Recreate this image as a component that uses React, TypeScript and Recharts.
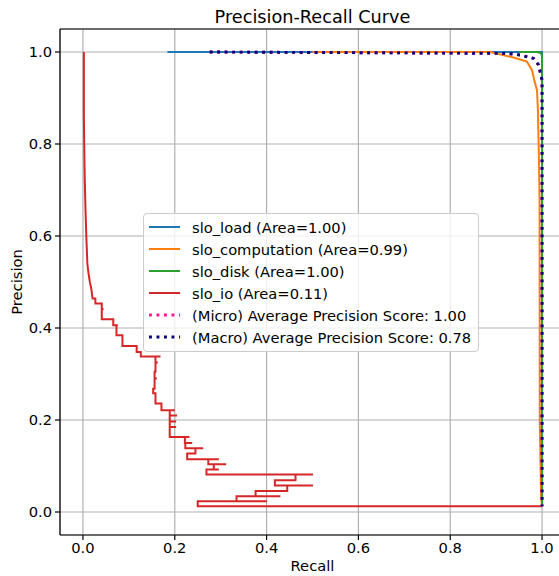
import { LineChart, Line, XAxis, YAxis, CartesianGrid, ReferenceLine, Legend } from 'recharts';

const font = '"DejaVu Sans", sans-serif';

const axisTicks = [0, 0.2, 0.4, 0.6, 0.8, 1.0];

// slo_load
const loadRecall = [0.184, 1.0, 1.0];
const loadPrecision = [1.0, 1.0, 0.0124];

// slo_computation
const compRecall = [0.5, 0.887, 0.938, 0.967, 0.978, 0.983, 0.989, 0.991, 0.993, 0.9946, 0.995, 0.998, 1.0];
const compPrecision = [1.0, 1.0, 0.988, 0.979, 0.961, 0.939, 0.917, 0.874, 0.78, 0.678, 0.2, 0.03, 0.0124];

// slo_disk
const diskRecall = [0.95, 0.99, 0.998, 1.0, 1.0];
const diskPrecision = [1.0, 1.0, 0.997, 0.99, 0.0124];

// slo_io
const ioRecall = [
  0.002, 0.002, 0.003, 0.004, 0.0055, 0.0074, 0.0096, 0.012, 0.015, 0.018, 0.021, 0.027, 0.027, 0.041, 0.041, 0.045,
  0.041, 0.041, 0.066, 0.066, 0.076, 0.073, 0.073, 0.086, 0.086, 0.117, 0.117, 0.126, 0.126, 0.169, 0.158, 0.158,
  0.163, 0.158, 0.158, 0.156, 0.156, 0.161, 0.156, 0.156, 0.153, 0.153, 0.158, 0.158, 0.171, 0.171, 0.2, 0.189,
  0.189, 0.205, 0.189, 0.189, 0.203, 0.189, 0.189, 0.203, 0.189, 0.189, 0.232, 0.222, 0.222, 0.238, 0.223, 0.223,
  0.262, 0.245, 0.245, 0.227, 0.227, 0.296, 0.273, 0.273, 0.312, 0.285, 0.285, 0.296, 0.269, 0.269, 0.501, 0.463,
  0.463, 0.418, 0.418, 0.501, 0.445, 0.445, 0.376, 0.376, 0.43, 0.3345, 0.3345, 0.401, 0.25, 0.25, 1.0,
];
const ioPrecision = [
  1.0, 0.86, 0.78, 0.72, 0.66, 0.598, 0.54, 0.52, 0.5, 0.486, 0.464, 0.464, 0.453, 0.453, 0.441, 0.441,
  0.441, 0.419, 0.419, 0.406, 0.406, 0.406, 0.384, 0.384, 0.361, 0.361, 0.348, 0.348, 0.338, 0.338, 0.338, 0.325,
  0.325, 0.325, 0.305, 0.305, 0.29, 0.29, 0.29, 0.268, 0.268, 0.258, 0.258, 0.236, 0.236, 0.221, 0.221, 0.221,
  0.21, 0.21, 0.21, 0.197, 0.197, 0.197, 0.185, 0.185, 0.185, 0.163, 0.163, 0.163, 0.15, 0.15, 0.15, 0.1386,
  0.1386, 0.1386, 0.127, 0.127, 0.1146, 0.1146, 0.1146, 0.1038, 0.1038, 0.1038, 0.0922, 0.0922, 0.0922, 0.0814, 0.0814, 0.0814,
  0.069, 0.069, 0.0574, 0.0574, 0.0574, 0.0457, 0.0457, 0.034, 0.034, 0.034, 0.0233, 0.0233, 0.0233, 0.0124, 0.0124,
];

// micro / macro averages
const microRecall = [0.276, 0.9236, 0.9526, 0.9815, 0.9924, 1.0, 1.0];
const microPrecision = [1.0, 0.997, 0.9935, 0.986, 0.972, 0.939, 0.0124];
const macroRecall = [0.276, 0.9236, 0.9526, 0.9815, 0.9924, 1.0, 1.0];
const macroPrecision = [1.0, 0.997, 0.9935, 0.986, 0.972, 0.939, 0.0124];

const toPoints = (r: number[], p: number[]) => r.map((x, i) => ({ recall: x, precision: p[i] }));

const series = [
  { key: 'load', name: 'slo_load (Area=1.00)', color: '#1f77b4', dotted: false, data: toPoints(loadRecall, loadPrecision) },
  { key: 'comp', name: 'slo_computation (Area=0.99)', color: '#ff7f0e', dotted: false, data: toPoints(compRecall, compPrecision) },
  { key: 'disk', name: 'slo_disk (Area=1.00)', color: '#2ca02c', dotted: false, data: toPoints(diskRecall, diskPrecision) },
  { key: 'io', name: 'slo_io (Area=0.11)', color: '#d62728', dotted: false, data: toPoints(ioRecall, ioPrecision) },
  { key: 'micro', name: '(Micro) Average Precision Score: 1.00', color: '#ff1493', dotted: true, data: toPoints(microRecall, microPrecision) },
  { key: 'macro', name: '(Macro) Average Precision Score: 0.78', color: '#000080', dotted: true, data: toPoints(macroRecall, macroPrecision) },
];

function PrLegend() {
  return (
    <div
      style={{
        background: 'rgba(255,255,255,0.8)',
        border: '1px solid #cccccc',
        borderRadius: 4,
        padding: '2px 7px 3px 5px',
        fontFamily: font,
        fontSize: 14.7,
        color: '#000',
        width: 'max-content',
      }}
    >
      {series.map((s) => (
        <div key={s.key} style={{ display: 'flex', alignItems: 'center', height: 22 }}>
          <svg width={31} height={6} style={{ marginRight: 12 }}>
            <line
              x1={0}
              y1={3}
              x2={31}
              y2={3}
              stroke={s.color}
              strokeWidth={s.dotted ? 2.9 : 2}
              strokeDasharray={s.dotted ? '2.9 4.6' : undefined}
            />
          </svg>
          <span style={{ whiteSpace: 'nowrap' }}>{s.name}</span>
        </div>
      ))}
    </div>
  );
}

const tickStyle = { fill: '#000', fontSize: 14.7, fontFamily: font };
const labelStyle = { fill: '#000', fontSize: 14.7, fontFamily: font, textAnchor: 'middle' as const };

export default function App() {
  return (
    <div style={{ position: 'absolute', left: 0, top: 0, width: 559, height: 576, overflow: 'hidden', background: '#fff' }}>
      <div
        style={{
          position: 'absolute',
          left: 0,
          top: 9,
          width: 625,
          textAlign: 'center',
          fontFamily: font,
          fontSize: 17.7,
          lineHeight: '17.7px',
          color: '#000',
        }}
      >
        Precision-Recall Curve
      </div>
      <LineChart width={575} height={576} margin={{ top: 29, right: 10, bottom: 0, left: 0 }}>
        <CartesianGrid stroke="#b0b0b0" strokeWidth={1.2} />
        <XAxis
          dataKey="recall"
          type="number"
          domain={[-0.05, 1.05]}
          allowDataOverflow
          ticks={axisTicks}
          tickFormatter={(v: number) => v.toFixed(1)}
          height={41}
          tickSize={5}
          tickMargin={3}
          axisLine={{ stroke: '#000', strokeWidth: 1.2 }}
          tickLine={{ stroke: '#000', strokeWidth: 1.2 }}
          tick={tickStyle}
          label={{ value: 'Recall', position: 'insideBottom', offset: 5.5, style: labelStyle }}
        />
        <YAxis
          type="number"
          domain={[-0.05, 1.05]}
          allowDataOverflow
          ticks={axisTicks}
          tickFormatter={(v: number) => v.toFixed(1)}
          width={60}
          tickSize={5}
          tickMargin={3}
          axisLine={{ stroke: '#000', strokeWidth: 1.2 }}
          tickLine={{ stroke: '#000', strokeWidth: 1.2 }}
          tick={tickStyle}
          label={{ value: 'Precision', angle: -90, position: 'insideLeft', offset: 17, style: labelStyle }}
        />
        <ReferenceLine y={1.05} stroke="#000" strokeWidth={1.2} />
        <ReferenceLine x={1.05} stroke="#000" strokeWidth={1.2} />
        {series.map((s) => (
          <Line
            key={s.key}
            data={s.data}
            dataKey="precision"
            name={s.name}
            type="linear"
            stroke={s.color}
            strokeWidth={s.dotted ? 2.9 : 2}
            strokeDasharray={s.dotted ? '2.9 4.6' : undefined}
            dot={false}
            activeDot={false}
            isAnimationActive={false}
          />
        ))}
        <Legend
          content={() => <PrLegend />}
          layout="vertical"
          align="center"
          verticalAlign="middle"
          wrapperStyle={{ left: 143, top: 213, width: 'auto' }}
        />
      </LineChart>
    </div>
  );
}
